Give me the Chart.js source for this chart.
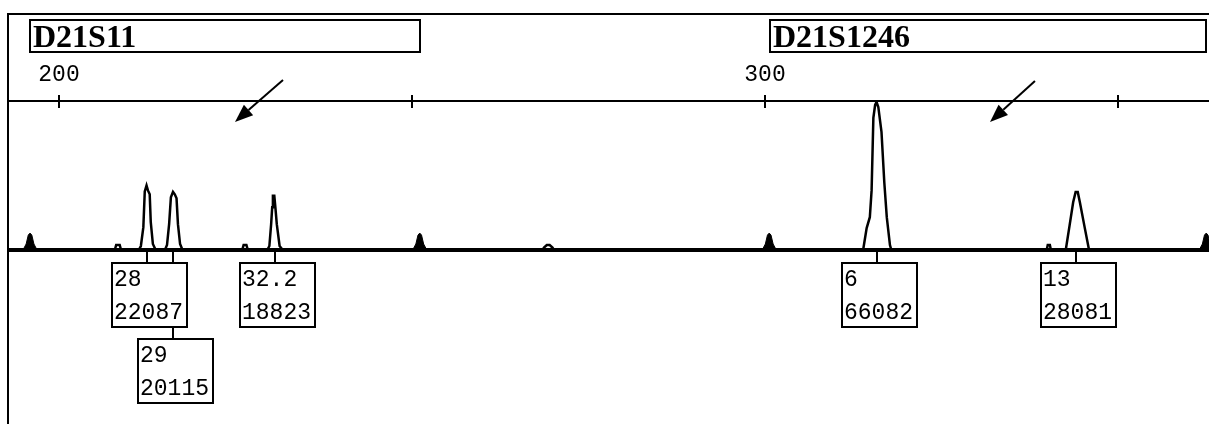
<!DOCTYPE html>
<html>
<head>
<meta charset="utf-8">
<title>D21S11 / D21S1246</title>
<script src="https://cdn.jsdelivr.net/npm/chart.js@4/dist/chart.umd.min.js"></script>
<style>
  body { margin: 0; background: #fff; }
  canvas { display: block; }
</style>
</head>
<body>
<canvas id="chart" width="1209" height="424"></canvas>
<script>
// size range shown (bp) and signal range
var xMin = 192.92;
var xMax = 362.89;
var yMin = -1752;
var yMax = 1500;

// top axis, only these ticks get a label
var labeledTicks = [200, 300];

// marker bins
var markerNames = ['D21S11', 'D21S1246'];
var markerStart = [195.75, 300.57];
var markerEnd = [251.27, 362.6];

// sample trace (bp, signal)
var traceBp = [192.92,
  207.9, 208.1, 208.6, 208.8,
  211.3, 211.6, 211.95, 212.15, 212.4, 212.6, 212.85, 213.0, 213.3, 213.7,
  215.0, 215.3, 215.6, 215.85, 216.15, 216.4, 216.65, 216.85, 217.15, 217.5,
  225.95, 226.15, 226.55, 226.75,
  229.5, 229.8, 230.05, 230.2, 230.3, 230.5, 230.65, 230.85, 231.25, 231.7,
  268.5, 268.7, 269.1, 269.5, 269.9, 270.1,
  313.9, 314.4, 314.85, 315.1, 315.35, 315.6, 315.8, 316.05, 316.5, 316.9, 317.25, 317.7, 317.9,
  339.9, 340.05, 340.35, 340.5,
  342.6, 343.15, 343.65, 344.0, 344.3, 344.6, 345.3, 345.9,
  362.89];
var traceRfu = [0,
  0, 50, 50, 0,
  0, 40, 230, 590, 650, 600, 560, 280, 60, 0,
  0, 50, 260, 530, 585, 560, 520, 260, 60, 0,
  0, 50, 50, 0,
  0, 40, 260, 430, 545, 545, 430, 260, 40, 0,
  0, 25, 50, 50, 25, 0,
  0, 220, 330, 600, 1330, 1460, 1490, 1440, 1190, 680, 330, 50, 0,
  0, 50, 50, 0,
  0, 250, 480, 585, 585, 480, 220, 0,
  0];

// size standard peaks (drawn filled)
var stdBp = [194.9, 195.35, 195.65, 195.9, 196.15, 196.45, 196.9,
  250.1, 250.55, 250.85, 251.1, 251.35, 251.65, 252.1,
  299.6, 300.05, 300.35, 300.6, 300.85, 301.15, 301.6,
  361.5, 361.95, 362.25, 362.5, 362.75, 363.05, 363.5];
var stdRfu = [0, 60, 150, 170, 150, 60, 0,
  0, 60, 150, 170, 150, 60, 0,
  0, 60, 150, 170, 150, 60, 0,
  0, 60, 150, 170, 150, 60, 0];

// allele calls
var alleleNames = ['28', '29', '32.2', '6', '13'];
var alleleAreas = [22087, 20115, 18823, 66082, 28081];
var alleleBp = [212.42, 216.19, 230.6, 315.8, 344.1];
var alleleRow = [0, 1, 0, 0, 0];

// arrows [tailBp, tailRfu, tipBp, tipRfu]
var arrows = [[231.73, 1712, 224.93, 1289], [338.24, 1702, 331.87, 1289]];

function toPoints(xs, ys) {
    var pts = [];
    for (var i = 0; i < xs.length; i++) pts.push({ x: xs[i], y: ys[i] });
    return pts;
}

var annotations = {
    id: 'annotations',
    beforeDraw: function (chart) {
        var ctx = chart.ctx;
        ctx.save();
        ctx.fillStyle = '#fff';
        ctx.fillRect(0, 0, chart.width, chart.height);
        ctx.fillStyle = '#000';
        // frame
        ctx.fillRect(7, 13, 2, chart.height - 13);
        ctx.fillRect(7, 13, chart.width - 7, 2);
        ctx.restore();
    },
    afterDraw: function (chart) {
        var ctx = chart.ctx;
        var x = chart.scales.x;
        var y = chart.scales.y;
        ctx.save();
        ctx.strokeStyle = '#000';
        ctx.fillStyle = '#000';
        ctx.lineWidth = 2;

        // marker bins
        for (var m = 0; m < markerNames.length; m++) {
            var l = Math.round(x.getPixelForValue(markerStart[m]));
            var r = Math.round(x.getPixelForValue(markerEnd[m]));
            ctx.strokeRect(l + 1, 20, r - l - 2, 32);
            ctx.font = 'bold 32px "Liberation Serif"';
            ctx.textBaseline = 'alphabetic';
            ctx.textAlign = 'left';
            ctx.fillText(markerNames[m], l + 4, 47);
        }

        // arrows
        arrows.forEach(function (a) {
            var x1 = x.getPixelForValue(a[0]), y1 = y.getPixelForValue(a[1]);
            var x2 = x.getPixelForValue(a[2]), y2 = y.getPixelForValue(a[3]);
            var ang = Math.atan2(y2 - y1, x2 - x1);
            var hl = 18, hw = 7;
            var bx = x2 - hl * Math.cos(ang), by = y2 - hl * Math.sin(ang);
            ctx.beginPath();
            ctx.moveTo(x1, y1);
            ctx.lineTo(bx, by);
            ctx.stroke();
            ctx.beginPath();
            ctx.moveTo(x2, y2);
            ctx.lineTo(bx + hw * Math.sin(ang), by - hw * Math.cos(ang));
            ctx.lineTo(bx - hw * Math.sin(ang), by + hw * Math.cos(ang));
            ctx.closePath();
            ctx.fill();
        });

        // allele call boxes
        var baseY = Math.round(y.getPixelForValue(0));
        var boxW = 77, boxH = 66, rowStep = 76;
        ctx.beginPath();
        for (var i = 0; i < alleleNames.length; i++) {
            var px = Math.round(x.getPixelForValue(alleleBp[i]));
            ctx.moveTo(px, baseY + 2);
            ctx.lineTo(px, baseY + 12 + alleleRow[i] * rowStep);
        }
        ctx.stroke();
        ctx.font = '23px "Liberation Mono"';
        ctx.textAlign = 'left';
        ctx.textBaseline = 'alphabetic';
        for (var j = 0; j < alleleNames.length; j++) {
            var cx = Math.round(x.getPixelForValue(alleleBp[j]));
            var left = cx - 36;
            var top = baseY + 12 + alleleRow[j] * rowStep;
            ctx.fillStyle = '#fff';
            ctx.fillRect(left, top, boxW, boxH);
            ctx.strokeRect(left + 1, top + 1, boxW - 2, boxH - 2);
            ctx.fillStyle = '#000';
            ctx.fillText(alleleNames[j], left + 3, top + 24);
            ctx.fillText(String(alleleAreas[j]), left + 3, top + 57);
        }
        ctx.restore();
    }
};

var ctx = document.getElementById('chart').getContext('2d');
new Chart(ctx, {
    type: 'line',
    data: {
        datasets: [{
            label: 'baseline',
            data: toPoints([xMin, xMax], [0, 0]),
            borderColor: '#000',
            borderWidth: 4,
            pointRadius: 0,
            order: 3
        }, {
            label: 'size standard',
            data: toPoints(stdBp, stdRfu),
            borderColor: '#000',
            backgroundColor: '#000',
            borderWidth: 1,
            fill: 'origin',
            pointRadius: 0,
            order: 2
        }, {
            label: 'sample',
            data: toPoints(traceBp, traceRfu),
            borderColor: '#000',
            borderWidth: 2.5,
            pointRadius: 0,
            tension: 0,
            order: 1
        }]
    },
    options: {
        responsive: false,
        animation: false,
        devicePixelRatio: 1,
        layout: { padding: { left: 9, right: 0, top: 61, bottom: 0 } },
        plugins: { legend: { display: false }, tooltip: { enabled: false } },
        scales: {
            x: {
                type: 'linear',
                position: 'top',
                min: xMin,
                max: xMax,
                afterFit: function (scale) { scale.height = 40; },
                ticks: {
                    stepSize: 50,
                    includeBounds: false,
                    maxRotation: 0,
                    padding: 6,
                    color: '#000',
                    font: { family: 'Liberation Mono', size: 23 },
                    callback: function (v) { return labeledTicks.indexOf(v) >= 0 ? String(v) : ''; }
                },
                grid: { drawOnChartArea: false, tickLength: 6, lineWidth: 2, color: '#000' },
                border: { display: true, color: '#000', width: 2 }
            },
            x2: {
                type: 'linear',
                position: { y: yMax },
                min: xMin,
                max: xMax,
                ticks: { stepSize: 50, includeBounds: false, display: false },
                grid: { drawOnChartArea: false, tickLength: 7, lineWidth: 2, color: '#000' },
                border: { display: false }
            },
            y: {
                type: 'linear',
                display: false,
                min: yMin,
                max: yMax
            }
        }
    },
    plugins: [annotations]
});
</script>
</body>
</html>
